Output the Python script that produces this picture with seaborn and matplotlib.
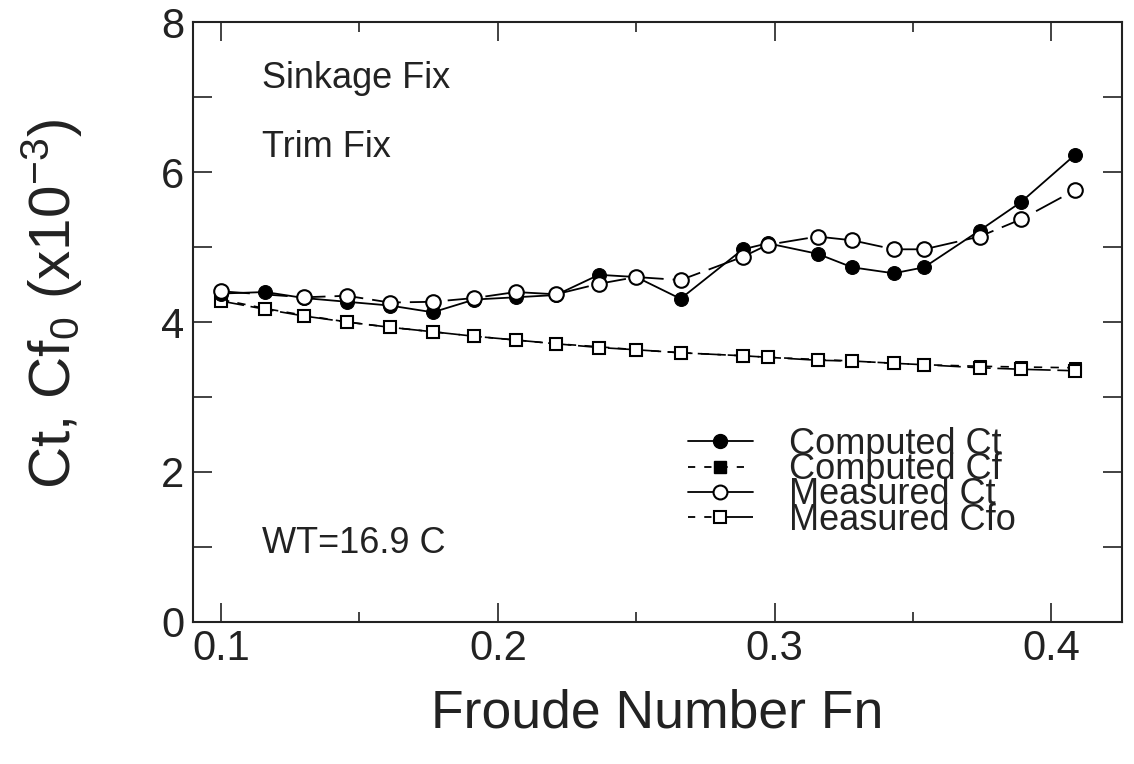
import numpy as np
import pandas as pd
import seaborn as sns
import matplotlib
matplotlib.use('Agg')
import matplotlib.pyplot as plt
from matplotlib.lines import Line2D
from matplotlib.ticker import MultipleLocator

# Datos (Fn vs coeficientes x10^-3)
fn = [0.100, 0.116, 0.130, 0.1455, 0.161, 0.1765, 0.1915, 0.2065, 0.221, 0.2365, 0.250,
      0.266, 0.2885, 0.2975, 0.3155, 0.328, 0.343, 0.354, 0.374, 0.389, 0.4085]

ct_computed = [4.38, 4.40, 4.32, 4.27, 4.22, 4.13, 4.30, 4.33, 4.36, 4.63, 4.60,
               4.31, 4.97, 5.05, 4.91, 4.73, 4.65, 4.73, 5.22, 5.60, 6.23]
cf_computed = [4.30, 4.18, 4.09, 4.00, 3.93, 3.87, 3.81, 3.76, 3.71, 3.67, 3.63,
               3.59, 3.55, 3.53, 3.50, 3.48, 3.45, 3.43, 3.41, 3.40, 3.39]
# el Ct medido no tiene punto en Fn=0.116
ct_measured = [4.41, np.nan, 4.33, 4.35, 4.26, 4.27, 4.32, 4.40, 4.37, 4.51, 4.60,
               4.56, 4.87, 5.03, 5.14, 5.09, 4.97, 4.97, 5.14, 5.37, 5.76]
cfo_measured = [4.28, 4.17, 4.08, 4.00, 3.93, 3.87, 3.81, 3.76, 3.71, 3.66, 3.63,
                3.59, 3.55, 3.53, 3.49, 3.48, 3.45, 3.43, 3.39, 3.37, 3.35]

labels = ['Computed Ct', 'Computed Cf', 'Measured Ct', 'Measured Cfo']

df = pd.DataFrame({'Fn': fn, 'ct_c': ct_computed, 'cf_c': cf_computed,
                   'ct_m': ct_measured, 'cfo_m': cfo_measured})

sns.set_style('ticks')
plt.rcParams['font.family'] = ['Liberation Sans', 'DejaVu Sans']
plt.rcParams['mathtext.fontset'] = 'custom'
plt.rcParams['mathtext.rm'] = 'Liberation Sans'
plt.rcParams['mathtext.it'] = 'Liberation Sans:italic'

fig = plt.figure(figsize=(11.34, 7.64), dpi=100)
ax = fig.add_axes([0.170, 0.186, 0.819, 0.785])

# orden de dibujo: los rellenos debajo, los huecos encima
sns.lineplot(data=df, x='Fn', y='cf_c', ax=ax, color='black', lw=1.2,
             linestyle=(0, (5, 5)), marker='s', markersize=9,
             markerfacecolor='black', markeredgecolor='black')
sns.lineplot(data=df, x='Fn', y='cfo_m', ax=ax, color='black', lw=1.2,
             linestyle=(0, (14, 4)), marker='s', markersize=9,
             markerfacecolor='white', markeredgecolor='black', markeredgewidth=1.5)
sns.lineplot(data=df, x='Fn', y='ct_c', ax=ax, color='black', lw=1.3,
             marker='o', markersize=10,
             markerfacecolor='black', markeredgecolor='black')
sns.lineplot(data=df.dropna(subset=['ct_m']), x='Fn', y='ct_m', ax=ax, color='black', lw=1.3,
             linestyle=(0, (16, 5)), marker='o', markersize=10.5,
             markerfacecolor='white', markeredgecolor='black', markeredgewidth=1.5)

ax.set_xlim(0.0898, 0.4253)
ax.set_ylim(0, 8)
ax.xaxis.set_major_locator(MultipleLocator(0.1))
ax.xaxis.set_minor_locator(MultipleLocator(0.05))
ax.yaxis.set_major_locator(MultipleLocator(2))
ax.yaxis.set_minor_locator(MultipleLocator(1))
ax.xaxis.set_major_formatter(plt.FuncFormatter(lambda v, p: f'{v:.1f}'))

ax.tick_params(which='both', direction='in', top=True, right=True,
               width=1.2, colors='#222222', labelsize=30)
ax.tick_params(which='major', length=14)
ax.tick_params(axis='x', which='minor', length=7)
ax.tick_params(axis='y', which='minor', length=14)
ax.tick_params(axis='x', pad=5)
ax.tick_params(axis='y', pad=6)
for s in ax.spines.values():
    s.set_linewidth(1.5)
    s.set_color('#222222')

ax.set_xlabel('Froude Number Fn', fontsize=38.5, labelpad=14, color='#222222')
ax.set_ylabel(r'Ct, Cf$_\mathregular{0}$ (x10$^\mathregular{-3}$)', fontsize=42,
              labelpad=55, color='#222222')
ax.yaxis.label.set_y(0.53)

ax.text(0.0746, 0.89, 'Sinkage Fix', transform=ax.transAxes, fontsize=26,
        va='baseline', color='#222222')
ax.text(0.0746, 0.775, 'Trim Fix', transform=ax.transAxes, fontsize=26,
        va='baseline', color='#222222')
ax.text(0.0746, 0.115, 'WT=16.9 C', transform=ax.transAxes, fontsize=26,
        va='baseline', color='#222222')

# leyenda con los estilos del original
handles = [
    Line2D([], [], color='black', lw=1.3, marker='o', markersize=10,
           markerfacecolor='black'),
    Line2D([], [], color='black', lw=1.3, linestyle=(0, (4, 5)), marker='s',
           markersize=9, markerfacecolor='black'),
    Line2D([], [], color='black', lw=1.3, marker='o', markersize=10,
           markerfacecolor='white', markeredgewidth=1.5),
    Line2D([], [], color='black', lw=1.3, linestyle=(0, (4, 5, 4, 3, 40, 2)),
           marker='s', markersize=9, markerfacecolor='white', markeredgewidth=1.5),
]
ax.legend(handles, labels, loc='upper left', bbox_to_anchor=(0.533, 0.325),
          frameon=False, fontsize=26, labelspacing=-0.27, handlelength=1.8,
          handletextpad=1.0, borderpad=0, borderaxespad=0, labelcolor='#222222')

fig.savefig('out.png', dpi=100)
